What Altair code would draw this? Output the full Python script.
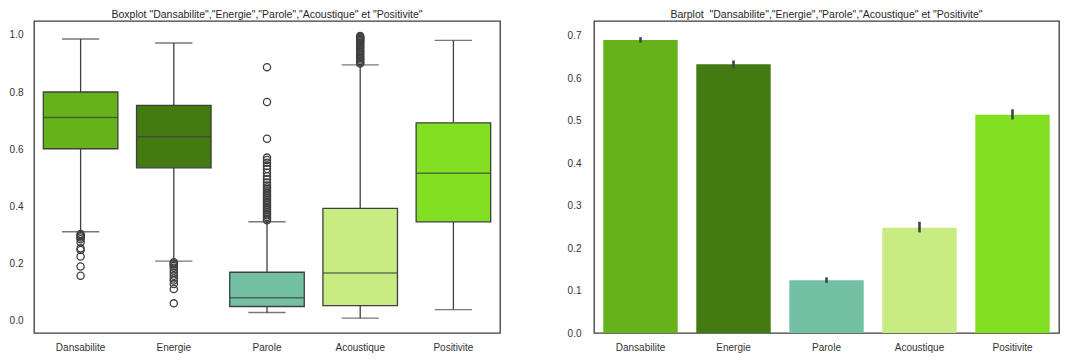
import altair as alt
import pandas as pd

cats = ["Dansabilite", "Energie", "Parole", "Acoustique", "Positivite"]
colors = ["#66b21b", "#447a12", "#74c0a5", "#c8ec82", "#83df22"]

# boxplot statistics
q1 = [0.601, 0.534, 0.048, 0.051, 0.345]
median = [0.711, 0.643, 0.079, 0.165, 0.515]
q3 = [0.800, 0.753, 0.168, 0.392, 0.692]
whisk_lo = [0.310, 0.207, 0.027, 0.007, 0.037]
whisk_hi = [0.986, 0.972, 0.345, 0.895, 0.981]

out_dans = [0.302, 0.298, 0.294, 0.290, 0.284, 0.273, 0.252, 0.246, 0.223, 0.188, 0.156]
out_ener = [0.203, 0.199, 0.195, 0.190, 0.184, 0.174, 0.165, 0.156, 0.146, 0.139, 0.127, 0.109, 0.059]
out_parole = [0.887, 0.765, 0.636, 0.570, 0.562, 0.552, 0.541, 0.530, 0.517, 0.505, 0.494,
              0.483, 0.472, 0.465, 0.459, 0.452, 0.446, 0.440, 0.434, 0.428, 0.422, 0.416,
              0.410, 0.404, 0.398, 0.392, 0.386, 0.380, 0.374, 0.368, 0.362, 0.356, 0.350]
out_acou = [0.996, 0.993, 0.990, 0.986, 0.982, 0.978, 0.974, 0.969, 0.964, 0.959, 0.954,
            0.949, 0.944, 0.939, 0.934, 0.929, 0.924, 0.919, 0.914, 0.909, 0.904, 0.900]
out_posi = []

# barplot means and confidence intervals
means = [0.690, 0.633, 0.124, 0.248, 0.514]
ci_lo = [0.684, 0.625, 0.118, 0.237, 0.503]
ci_hi = [0.697, 0.642, 0.131, 0.262, 0.527]

title_left = 'Boxplot "Dansabilite","Energie","Parole","Acoustique" et "Positivite"'
title_right = 'Barplot \u00a0"Dansabilite","Energie","Parole","Acoustique" et "Positivite"'

box_df = pd.DataFrame({"cat": cats, "q1": q1, "median": median, "q3": q3,
                       "lo": whisk_lo, "hi": whisk_hi})
outs = []
for c, lst in zip(cats, [out_dans, out_ener, out_parole, out_acou, out_posi]):
    for v in lst:
        outs.append({"cat": c, "v": v})
out_df = pd.DataFrame(outs)
bar_df = pd.DataFrame({"cat": cats, "mean": means, "lo": ci_lo, "hi": ci_hi})

W = 466
H = 312
box_w = W / 5 * 0.8
EDGE = "#3f3f3f"
FONT = "Liberation Sans"

xscale = alt.Scale(domain=cats, paddingInner=0.2, paddingOuter=0.1)
xaxis = alt.Axis(title=None, labelAngle=0, ticks=False, domain=False, grid=False,
                 labelPadding=9, labelFontSize=10, labelColor="#333333", labelFont=FONT)
color = alt.Color("cat:N", scale=alt.Scale(domain=cats, range=colors), legend=None)


def X():
    return alt.X("cat:N", sort=cats, scale=xscale, axis=xaxis)


yscale_l = alt.Scale(domain=[-0.045, 1.049], nice=False, zero=False)
yaxis_l = alt.Axis(title=None, values=[0.0, 0.2, 0.4, 0.6, 0.8, 1.0], format=".1f",
                   ticks=False, domain=False, grid=False, labelPadding=11,
                   labelFontSize=10, labelColor="#333333", labelFont=FONT,
                   minExtent=23, maxExtent=23)


def YL(field):
    return alt.Y(field, scale=yscale_l, axis=yaxis_l)


base = alt.Chart(box_df)
whisk1 = base.mark_rule(color=EDGE, strokeWidth=1.3).encode(x=X(), y=YL("lo:Q"), y2="q1:Q")
whisk2 = base.mark_rule(color=EDGE, strokeWidth=1.3).encode(x=X(), y=YL("q3:Q"), y2="hi:Q")
box = base.mark_bar(stroke=EDGE, strokeWidth=1.3, opacity=1).encode(
    x=X(), y=YL("q1:Q"), y2="q3:Q", color=color)
med = base.mark_tick(color=EDGE, thickness=1.5, size=box_w, orient="horizontal").encode(
    x=X(), y=YL("median:Q"))
cap1 = base.mark_tick(color=EDGE, thickness=1.4, size=box_w / 2, orient="horizontal").encode(
    x=X(), y=YL("lo:Q"))
cap2 = base.mark_tick(color=EDGE, thickness=1.4, size=box_w / 2, orient="horizontal").encode(
    x=X(), y=YL("hi:Q"))
pts = alt.Chart(out_df).mark_point(shape="circle", filled=False, color=EDGE, size=52,
                                   strokeWidth=1.3, opacity=1).encode(x=X(), y=YL("v:Q"))

left = alt.layer(whisk1, whisk2, box, med, cap1, cap2, pts).properties(
    width=W, height=H,
    title=alt.TitleParams(title_left, fontSize=10.5, font=FONT, fontWeight="normal",
                          color="#262626", offset=1, anchor="middle", frame="group"))

yscale_r = alt.Scale(domain=[0, 0.735], nice=False, zero=True)
yaxis_r = alt.Axis(title=None, values=[0.0, 0.1, 0.2, 0.3, 0.4, 0.5, 0.6, 0.7], format=".1f",
                   ticks=False, domain=False, grid=False, labelPadding=13,
                   labelFontSize=10, labelColor="#333333", labelFont=FONT,
                   minExtent=27, maxExtent=27)

rb = alt.Chart(bar_df)
bars = rb.mark_bar(opacity=1).encode(
    x=X(), y=alt.Y("mean:Q", scale=yscale_r, axis=yaxis_r), color=color)
err = rb.mark_rule(color="#444444", strokeWidth=2.6).encode(
    x=X(), y=alt.Y("lo:Q", scale=yscale_r, axis=yaxis_r), y2="hi:Q")

right = alt.layer(bars, err).properties(
    width=465, height=H,
    title=alt.TitleParams(title_right, fontSize=10.5, font=FONT, fontWeight="normal",
                          color="#262626", offset=1, anchor="middle", frame="group"))

chart = alt.hconcat(left, right, spacing=65).properties(
    padding=0, background="white"
).configure_view(stroke="#3c3c3c", strokeWidth=1.3)

chart.save("out.html", embed_options={"renderer": "svg", "actions": False})
